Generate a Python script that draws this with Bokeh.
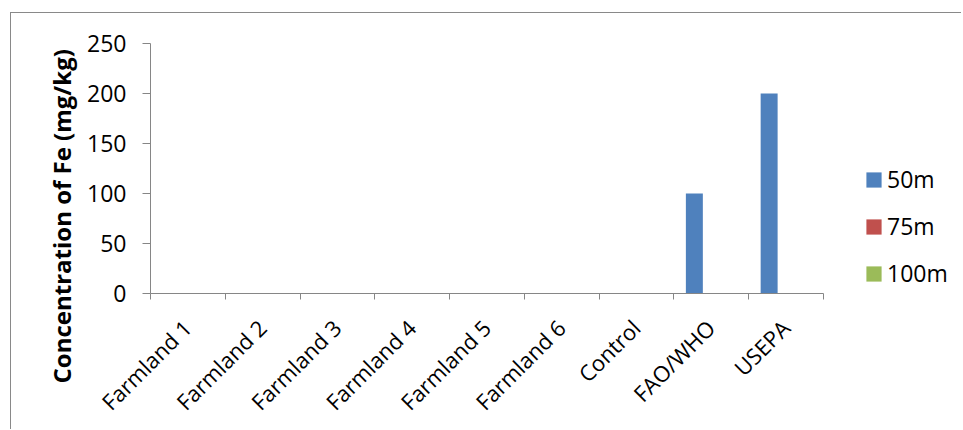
import math
from bokeh.plotting import figure
from bokeh.models import (ColumnDataSource, FixedTicker, Legend, LegendItem,
                          Title, Range1d, LinearAxis)
from bokeh.transform import dodge
from bokeh.embed import file_html
from bokeh.resources import INLINE

categories = ["Farmland 1", "Farmland 2", "Farmland 3", "Farmland 4", "Farmland 5",
              "Farmland 6", "Control", "FAO/WHO", "USEPA"]
series_names = ["50m", "75m", "100m"]
s50 = [0, 0, 0, 0, 0, 0, 0, 100, 200]
s75 = [0, 0, 0, 0, 0, 0, 0, 0, 0]
s100 = [0, 0, 0, 0, 0, 0, 0, 0, 0]
y_ticks = [0, 50, 100, 150, 200, 250]
colors = ["#4F81BD", "#C0504D", "#9BBB59"]

n = len(categories)
centres = [i + 0.5 for i in range(n)]
src = ColumnDataSource(dict(x=centres, cat=categories, s50=s50, s75=s75, s100=s100))

FONT = "Open Sans"
AX = "#868686"

# plotting area: 673 px for the categories, extended to the right to hold the legend
FW = 811
x_end = n * FW / 673.0

p = figure(x_range=Range1d(0, x_end), y_range=(0, 250),
           frame_width=FW, frame_height=250, output_backend="svg", toolbar_location=None,
           x_axis_location=None,
           min_border_left=139, min_border_right=0, min_border_top=30, min_border_bottom=136)
p.styles = {"border-top": "1px solid #898989", "border-left": "1px solid #898989",
            "margin-left": "10px", "margin-top": "12px"}

bw = 0.227
renderers = []
for col, off, c in zip(["s50", "s75", "s100"], [-bw, 0, bw], colors):
    r = p.vbar(x=dodge("x", off), top=col, width=bw, source=src,
               fill_color=c, line_color=None)
    renderers.append(r)

p.xgrid.grid_line_color = None
p.ygrid.grid_line_color = None
p.outline_line_color = None

# y axis
p.yaxis.ticker = FixedTicker(ticks=y_ticks)
ya = p.yaxis[0]
ya.axis_line_color = AX
ya.major_tick_line_color = AX
ya.minor_tick_line_color = None
ya.major_label_text_font = FONT
ya.major_label_text_font_size = "23px"
ya.major_label_text_color = "#000000"
ya.major_tick_out = 8
ya.major_tick_in = 0
ya.major_label_standoff = 16

# x axis: ticks at category boundaries, labels at category centres
xa_ticks = LinearAxis(ticker=FixedTicker(ticks=list(range(n + 1))), bounds=(0, n),
                      major_label_overrides={i: "" for i in range(n + 1)},
                      major_label_text_font_size="1px", major_label_standoff=0,
                      axis_line_color=AX, major_tick_line_color=AX, minor_tick_line_color=None,
                      major_tick_out=6, major_tick_in=0)
p.add_layout(xa_ticks, "below")

shift = -0.01
label_pos = [c + shift for c in centres]
xa_labels = LinearAxis(ticker=FixedTicker(ticks=label_pos), bounds=(0, n),
                       major_label_overrides={pos: c for pos, c in zip(label_pos, categories)},
                       major_label_orientation=math.pi / 4, major_label_standoff=18,
                       major_label_text_font=FONT, major_label_text_font_size="22px",
                       major_label_text_color="#000000",
                       axis_line_color=None, major_tick_line_color=None, minor_tick_line_color=None)
p.add_layout(xa_labels, "below")

title = Title(text="Concentration of Fe (mg/kg)", align="left", offset=-90,
              text_font=FONT, text_font_style="bold", text_font_size="24px",
              text_color="#000000", standoff=13)
p.add_layout(title, "left")

legend = Legend(items=[LegendItem(label=nm, renderers=[r]) for nm, r in zip(series_names, renderers)],
                location=(714, 4), orientation="vertical",
                glyph_width=19, glyph_height=19, label_height=30, spacing=15,
                label_standoff=4, padding=0, margin=0,
                border_line_color=None, background_fill_alpha=0,
                label_text_font=FONT, label_text_font_size="23px", label_text_color="#000000")
p.add_layout(legend)

open("out.html", "w").write(file_html(p, INLINE))
